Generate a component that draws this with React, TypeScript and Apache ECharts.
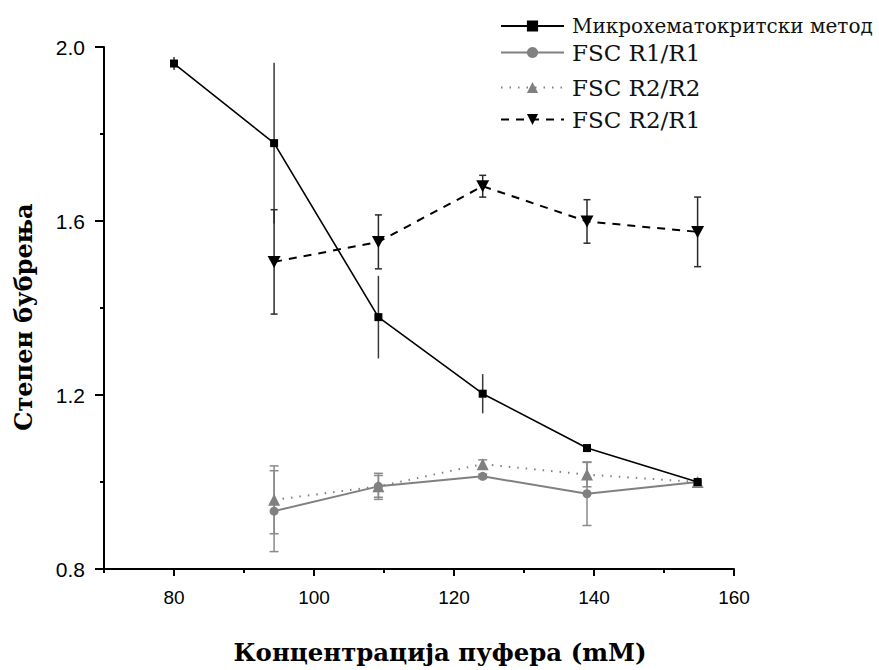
import React, { useEffect, useRef } from "react";
import * as echarts from "echarts";

const xMain = [80, 94.3, 109.2, 124.1, 139, 154.8];
const microValues = [1.962, 1.779, 1.379, 1.203, 1.078, 1.0];
const microErr = [0.015, 0.185, 0.095, 0.045, 0.005, 0];

const xFsc = [94.3, 109.2, 124.1, 139, 154.8];
const r1r1Values = [0.933, 0.99, 1.013, 0.973, 1.0];
const r1r1Err = [0.093, 0.03, 0.005, 0.073, 0];
const r2r2Values = [0.959, 0.99, 1.041, 1.017, 1.0];
const r2r2Err = [0.078, 0.025, 0.01, 0.028, 0];
const r2r1Values = [1.506, 1.552, 1.68, 1.599, 1.575];
const r2r1Err = [0.12, 0.062, 0.025, 0.05, 0.08];

const seriesNames = ["Микрохематокритски метод", "FSC R1/R1", "FSC R2/R2", "FSC R2/R1"];
const xMajorTicks = [80, 100, 120, 140, 160];
const xTitle = "Концентрација пуфера (mM)";
const yTitle = "Степен бубрења";

const DOWN_TRI = "path://M0,0 L10,0 L5,9 Z";

function pts(xs: number[], ys: number[]) {
  return xs.map((x, i) => [x, ys[i]]);
}
function errData(xs: number[], ys: number[], es: number[]) {
  return xs.map((x, i) => [x, ys[i] - es[i], ys[i] + es[i]]);
}

function errSeries(name: string, data: number[][], color: string, cap: number, width: number) {
  return {
    type: "custom",
    name,
    z: 1,
    data,
    renderItem: (params: any, api: any) => {
      const x = api.value(0);
      const lo = api.coord([x, api.value(1)]);
      const hi = api.coord([x, api.value(2)]);
      if (Math.abs(lo[1] - hi[1]) < 0.5) return { type: "group", children: [] };
      const style = { stroke: color, lineWidth: width };
      const children: any[] = [
        { type: "line", shape: { x1: lo[0], y1: lo[1], x2: hi[0], y2: hi[1] }, style },
      ];
      if (cap > 0) {
        children.push({ type: "line", shape: { x1: lo[0] - cap / 2, y1: lo[1], x2: lo[0] + cap / 2, y2: lo[1] }, style });
        children.push({ type: "line", shape: { x1: hi[0] - cap / 2, y1: hi[1], x2: hi[0] + cap / 2, y2: hi[1] }, style });
      }
      return { type: "group", children };
    },
  };
}

function legendAt(name: string, top: number, fontSize: number) {
  const ts = {
    fontFamily: "DejaVu Serif",
    fontSize,
    color: "#111",
    padding: [0, 0, 0, 3],
  };
  return {
    data: [{ name, textStyle: ts }],
    left: 495,
    top,
    orient: "vertical",
    itemWidth: 63,
    itemHeight: 14,
    selectedMode: false,
    textStyle: ts,
  };
}

export default function App() {
  const ref = useRef<HTMLDivElement>(null);
  useEffect(() => {
    if (!ref.current) return;
    const chart = echarts.init(ref.current, null, { renderer: "svg" });
    const tickLabel = { fontFamily: "Liberation Sans", color: "#000" };
    chart.setOption({
      animation: false,
      backgroundColor: "#fff",
      grid: { left: 104, right: 145, top: 47, bottom: 101 },
      legend: [
        legendAt(seriesNames[0], 11, 20),
        legendAt(seriesNames[1], 36, 23),
        legendAt(seriesNames[2], 71, 23),
        legendAt(seriesNames[3], 103, 23),
      ],
      xAxis: [
        {
          type: "value",
          position: "bottom",
          min: 70,
          max: 160,
          interval: 10,
          axisLine: { show: true, lineStyle: { color: "#000", width: 2 } },
          axisTick: { show: true, length: 4, lineStyle: { color: "#000", width: 2 } },
          axisLabel: { show: false },
          splitLine: { show: false },
        },
        {
          type: "value",
          position: "bottom",
          offset: 0,
          min: 70,
          max: 160,
          axisLine: { show: false },
          axisTick: { show: true, length: 7, customValues: xMajorTicks, lineStyle: { color: "#000", width: 2 } },
          axisLabel: { show: true, customValues: xMajorTicks, margin: 19, fontSize: 19, ...tickLabel },
          splitLine: { show: false },
        },
      ],
      yAxis: {
        type: "value",
        min: 0.8,
        max: 2.0,
        interval: 0.4,
        axisLine: { show: true, lineStyle: { color: "#000", width: 2 } },
        axisTick: { show: true, length: 9, lineStyle: { color: "#000", width: 2 } },
        minorTick: { show: true, splitNumber: 2, length: 4, lineStyle: { color: "#000", width: 2 } },
        axisLabel: { margin: 19, fontSize: 21, ...tickLabel, formatter: (v: number) => v.toFixed(1) },
        splitLine: { show: false },
      },
      graphic: [
        {
          type: "text",
          x: 440,
          y: 652,
          style: {
            text: xTitle,
            fontFamily: "DejaVu Serif",
            fontWeight: "bold",
            fontSize: 24.4,
            fill: "#000",
            align: "center",
            verticalAlign: "middle",
          },
        },
        {
          type: "text",
          x: 23,
          y: 317,
          rotation: Math.PI / 2,
          style: {
            text: yTitle,
            fontFamily: "DejaVu Serif",
            fontWeight: "bold",
            fontSize: 24,
            fill: "#000",
            align: "center",
            verticalAlign: "middle",
          },
        },
      ],
      series: [
        errSeries("err-micro", errData(xMain, microValues, microErr), "#3a3a3a", 0, 1.5),
        errSeries("err-r1r1", errData(xFsc, r1r1Values, r1r1Err), "#8a8a8a", 9, 1.5),
        errSeries("err-r2r2", errData(xFsc, r2r2Values, r2r2Err), "#8a8a8a", 9, 1.5),
        errSeries("err-r2r1", errData(xFsc, r2r1Values, r2r1Err), "#2a2a2a", 7, 1.5),
        {
          type: "line",
          name: seriesNames[1],
          z: 2,
          data: pts(xFsc, r1r1Values),
          symbol: "circle",
          symbolSize: 9,
          color: "#808080",
          itemStyle: { color: "#808080" },
          lineStyle: { color: "#808080", width: 2, type: "solid" },
        },
        {
          type: "line",
          name: seriesNames[2],
          z: 3,
          data: pts(xFsc, r2r2Values),
          symbol: "triangle",
          symbolSize: 12,
          color: "#808080",
          itemStyle: { color: "#808080" },
          lineStyle: { color: "#808080", width: 2, type: [1.5, 7] },
        },
        {
          type: "line",
          name: seriesNames[3],
          z: 3,
          data: pts(xFsc, r2r1Values),
          symbol: DOWN_TRI,
          symbolSize: [13, 12],
          color: "#000",
          itemStyle: { color: "#000" },
          lineStyle: { color: "#000", width: 2, type: [8, 7] },
        },
        {
          type: "line",
          name: seriesNames[0],
          z: 4,
          data: pts(xMain, microValues),
          symbol: "rect",
          symbolSize: 8,
          color: "#000",
          itemStyle: { color: "#000" },
          lineStyle: { color: "#000", width: 1.6, type: "solid" },
        },
      ],
    });
    return () => chart.dispose();
  }, []);
  return <div ref={ref} style={{ position: "fixed", left: 0, top: 0, width: 879, height: 670 }} />;
}
